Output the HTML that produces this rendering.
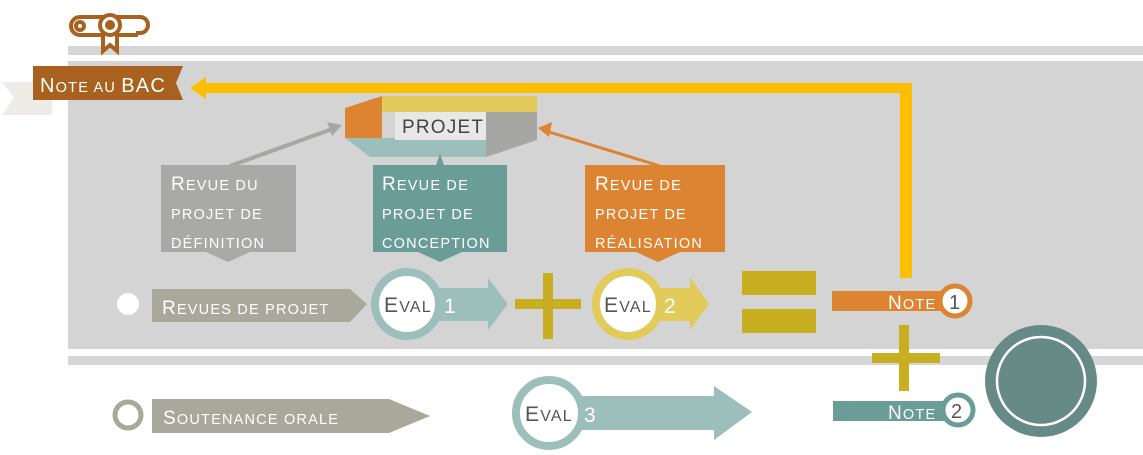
<!DOCTYPE html>
<html><head><meta charset="utf-8"><style>
html,body{margin:0;padding:0;background:#fff;width:1143px;height:455px;overflow:hidden}
svg{display:block}
text{font-family:"Liberation Sans",sans-serif;letter-spacing:1.2px}
.s{font-size:14.5px}
</style></head><body>
<svg width="1143" height="455" viewBox="0 0 1143 455">
<rect x="68" y="46" width="1075" height="9" fill="#d6d6d6"/>
<rect x="68" y="61" width="1075" height="288" fill="#d4d4d4"/>
<rect x="68" y="356" width="1075" height="9" fill="#d6d6d6"/>
<!-- diploma icon -->
<g fill="none" stroke="#a8611f" stroke-width="4">
<path d="M80 17 h60 a8 8 0 0 1 0 16 h-4 M80 17 a9 9 0 0 0 0 18 h58"/>
<circle cx="80" cy="26" r="4"/>
<path d="M103 33 v18 l7 -6 l7 6 v-18" fill="#fff"/>
</g>
<circle cx="110" cy="25" r="10" fill="#fff" stroke="#a8611f" stroke-width="4"/>
<circle cx="110" cy="25" r="5" fill="#a8611f"/>
<!-- Note au BAC -->
<polygon points="2,82 52,82 52,115 2,115 14,98" fill="#efebe6"/>
<polygon points="33,66 183,66 176,83 183,100 33,100" fill="#a8611f"/>
<text x="40" y="92" fill="#fff"><tspan font-size="20">N</tspan><tspan class="s" font-size="15.5">OTE AU </tspan><tspan font-size="20">BAC</tspan></text>
<polygon points="190,88 206,77 206,83 912,83 912,278 900,278 900,93 206,93 206,99" fill="#fbbf00"/>
<!-- PROJET box -->
<polygon points="345,108 382,96 382,138 345,138" fill="#dc8431"/>
<polygon points="382,96 537,96 537,112 382,112" fill="#e2cb5a"/>
<polygon points="486,112 537,112 537,140 486,157" fill="#a6a6a2"/>
<polygon points="345,138 486,138 486,157 370,157" fill="#9dbfbc"/>
<rect x="395" y="112" width="91" height="28" fill="#e8e8e8"/>
<text x="402" y="133" font-size="19" fill="#444">PROJET</text>
<line x1="230" y1="166" x2="335" y2="128" stroke="#a6a6a2" stroke-width="4"/>
<polygon points="342,125 327,122 332,136" fill="#a6a6a2"/>
<line x1="660" y1="166" x2="546" y2="131" stroke="#dc8431" stroke-width="3"/>
<polygon points="538,128 552,122 549,137" fill="#dc8431"/>
<polygon points="436,165 440,154 444,165" fill="#6a9d98"/>
<!-- Revue boxes -->
<polygon points="161,165 296,165 296,252 250,252 228,262 206,252 161,252" fill="#a9aaa5"/>
<text x="171" y="190" fill="#fff"><tspan font-size="19">R</tspan><tspan class="s">EVUE DU</tspan></text>
<text x="171" y="219" fill="#fff" class="s" font-size="15">PROJET DE</text>
<text x="171" y="248" fill="#fff" class="s">DÉFINITION</text>
<polygon points="373,165 507,165 507,252 462,252 440,262 418,252 373,252" fill="#6a9d98"/>
<text x="382" y="190" fill="#fff"><tspan font-size="19">R</tspan><tspan class="s">EVUE DE</tspan></text>
<text x="382" y="219" fill="#fff" class="s">PROJET DE</text>
<text x="382" y="248" fill="#fff" class="s">CONCEPTION</text>
<polygon points="585,165 725,165 725,252 680,252 658,262 636,252 585,252" fill="#dc8431"/>
<text x="595" y="190" fill="#fff"><tspan font-size="19">R</tspan><tspan class="s">EVUE DE</tspan></text>
<text x="595" y="219" fill="#fff" class="s">PROJET DE</text>
<text x="595" y="248" fill="#fff" class="s">RÉALISATION</text>
<!-- Row 1 -->
<circle cx="128" cy="304" r="13" fill="#fff" stroke="#d4d4d4" stroke-width="4"/>
<polygon points="152,289 350,289 367,304 350,322 152,322" fill="#a8a99a"/>
<text x="162" y="314" fill="#fff"><tspan font-size="19">R</tspan><tspan class="s">EVUES DE PROJET</tspan></text>
<polygon points="430,288 488,288 488,278 508,304 488,330 488,321 430,321" fill="#9dbfbc"/>
<circle cx="407" cy="304" r="32" fill="#fff" stroke="#9dbfbc" stroke-width="8"/>
<text x="384" y="312" fill="#555"><tspan font-size="21">E</tspan><tspan font-size="16">VAL</tspan></text>
<text x="444" y="313" font-size="21" fill="#fff">1</text>
<rect x="543" y="273" width="10" height="66" fill="#c8af22"/>
<rect x="515" y="299" width="66" height="10" fill="#c8af22"/>
<polygon points="660,288 690,288 690,277 709,304 690,330 690,321 660,321" fill="#e2cb5a"/>
<circle cx="628" cy="304" r="32" fill="#fff" stroke="#e2cb5a" stroke-width="8"/>
<text x="604" y="312" fill="#555"><tspan font-size="21">E</tspan><tspan font-size="16">VAL</tspan></text>
<text x="664" y="313" font-size="21" fill="#fff">2</text>
<rect x="742" y="271" width="74" height="24" fill="#c8af22"/>
<rect x="742" y="309" width="74" height="24" fill="#c8af22"/>
<rect x="832" y="291" width="120" height="20" fill="#dc8431"/>
<circle cx="955" cy="301" r="15" fill="#fff" stroke="#dc8431" stroke-width="5"/>
<text x="888" y="309" fill="#fff"><tspan font-size="19">N</tspan><tspan font-size="14.5">OTE</tspan></text>
<text x="949" y="309" font-size="20" fill="#555">1</text>
<rect x="899" y="325" width="10" height="66" fill="#c8af22"/>
<rect x="872" y="353" width="68" height="10" fill="#c8af22"/>
<!-- Row 2 -->
<circle cx="128" cy="415" r="13" fill="#fff" stroke="#a8a99a" stroke-width="5"/>
<polygon points="152,399 389,399 430,416 389,433 152,433" fill="#a8a99a"/>
<text x="163" y="424" fill="#fff"><tspan font-size="19">S</tspan><tspan class="s">OUTENANCE ORALE</tspan></text>
<polygon points="570,396 714,396 714,386 752,412 714,440 714,430 570,430" fill="#9dbfbc"/>
<circle cx="549" cy="413" r="33" fill="#fff" stroke="#9dbfbc" stroke-width="8"/>
<text x="525" y="421" fill="#555"><tspan font-size="21">E</tspan><tspan font-size="16">VAL</tspan></text>
<text x="584" y="422" font-size="21" fill="#fff">3</text>
<rect x="833" y="401" width="120" height="20" fill="#6a9d98"/>
<circle cx="958" cy="410" r="15" fill="#fff" stroke="#6a9d98" stroke-width="5"/>
<text x="888" y="419" fill="#fff"><tspan font-size="19">N</tspan><tspan font-size="14.5">OTE</tspan></text>
<text x="951" y="418" font-size="20" fill="#555">2</text>
<circle cx="1041" cy="381" r="56" fill="#668a86"/>
<circle cx="1041" cy="381" r="44" fill="none" stroke="#fff" stroke-width="2.5"/>
</svg>
</body></html>
